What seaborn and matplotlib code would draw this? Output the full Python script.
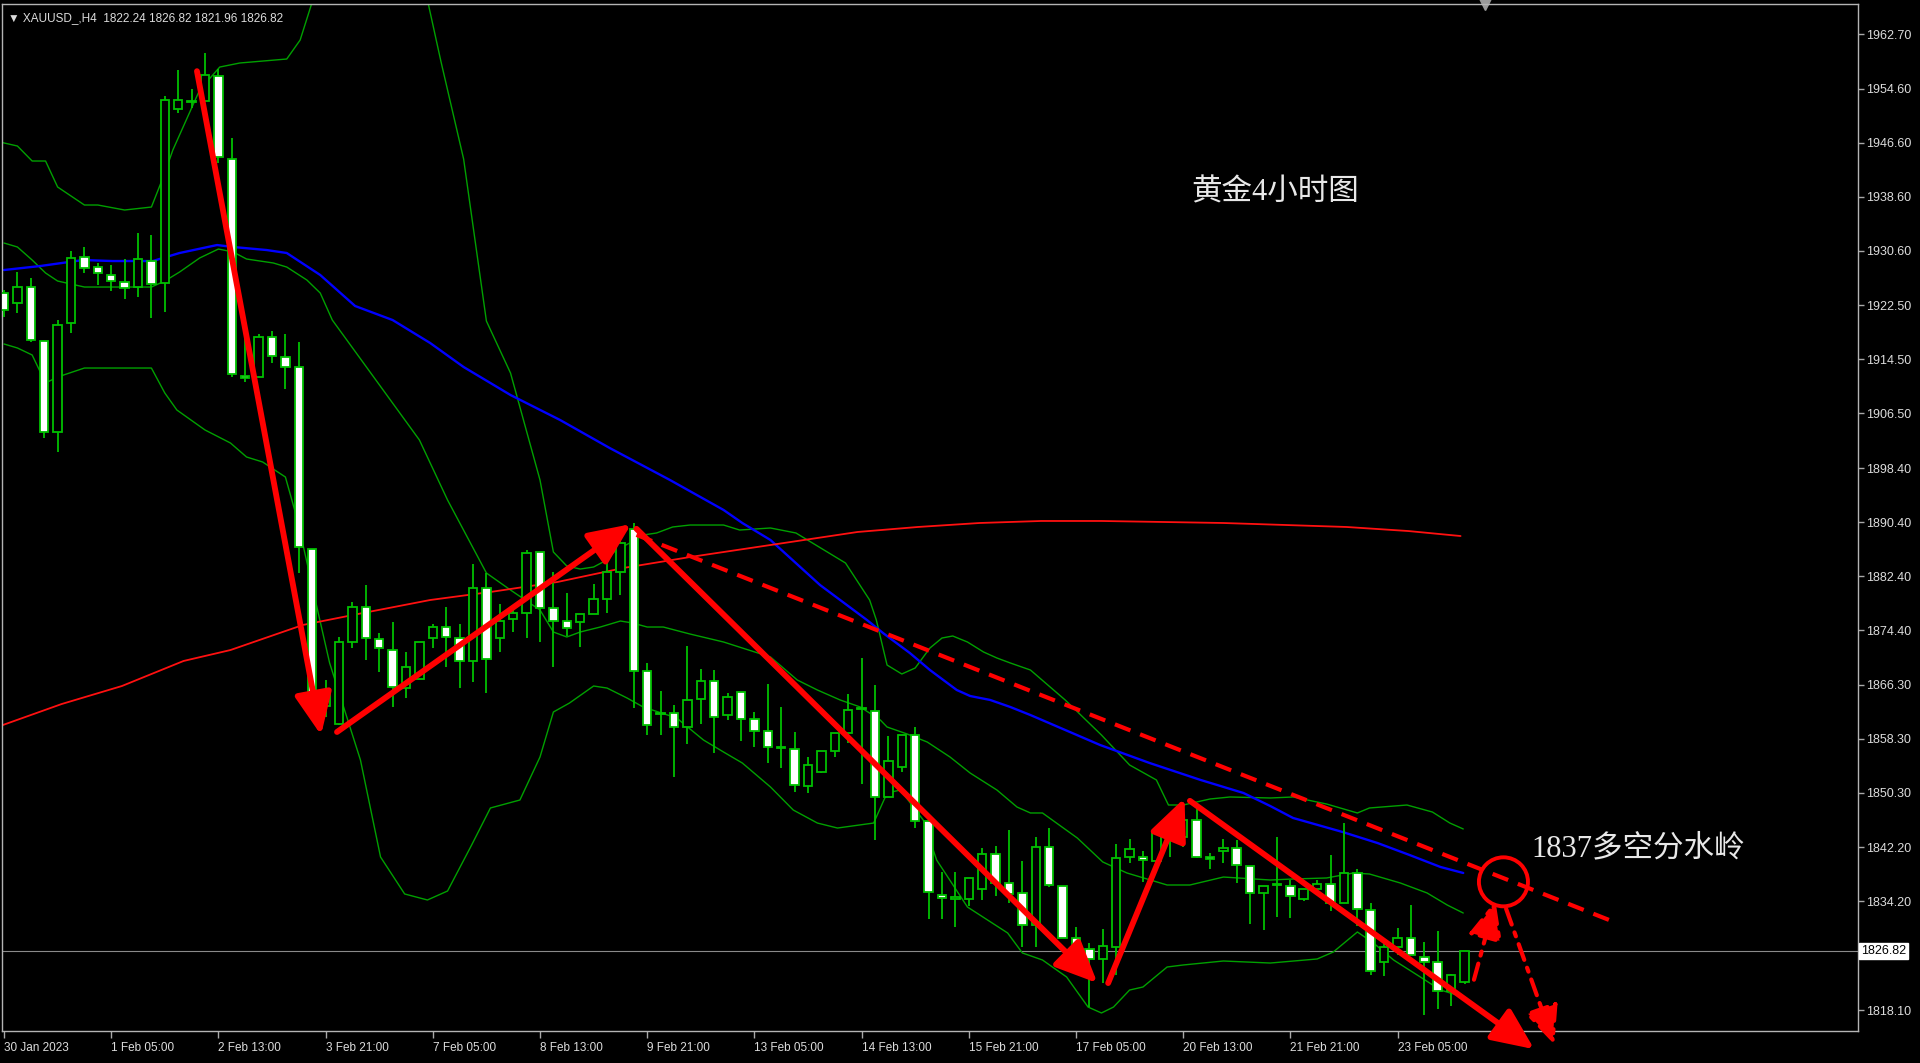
import numpy as np
import pandas as pd
import matplotlib
matplotlib.use("Agg")
import matplotlib.pyplot as plt
import matplotlib.transforms as mtransforms
from matplotlib.patches import Ellipse
import seaborn as sns

# H4 candles (index 0 = first bar on the left)
opens = [1924.33, 1922.85, 1925.22, 1917.22, 1903.74, 1919.89, 1929.67, 1928.18, 1927.00, 1925.96,
         1925.22, 1929.07, 1925.81, 1951.59, 1952.63, 1952.78, 1956.48, 1944.18, 1912.04, 1911.89,
         1917.81, 1914.85, 1913.37, 1886.41, 1863.15, 1860.48, 1872.63, 1877.81, 1873.07, 1871.44,
         1865.82, 1867.15, 1873.22, 1874.85, 1873.22, 1869.85, 1880.63, 1873.22, 1876.04, 1876.93,
         1885.96, 1877.67, 1875.74, 1875.59, 1876.78, 1879.00, 1883.00, 1889.37, 1868.33, 1861.96,
         1862.11, 1860.04, 1864.19, 1866.85, 1861.81, 1865.22, 1861.22, 1859.45, 1856.93, 1856.78,
         1851.30, 1853.37, 1856.48, 1859.15, 1862.70, 1862.41, 1849.67, 1854.11, 1858.85, 1846.11,
         1835.15, 1834.56, 1834.56, 1836.04, 1841.26, 1836.93, 1835.45, 1830.71, 1842.30, 1836.48,
         1828.78, 1827.15, 1825.67, 1827.44, 1840.78, 1840.78, 1840.19, 1843.74, 1843.74, 1846.26,
         1840.78, 1841.70, 1842.15, 1839.44, 1835.45, 1836.63, 1836.48, 1834.56, 1836.04, 1836.78,
         1833.96, 1838.41, 1832.93, 1825.22, 1827.44, 1828.78, 1825.96, 1825.22, 1820.93, 1822.24]
highs = [1924.80, 1927.44, 1926.55, 1917.22, 1920.33, 1930.55, 1931.15, 1928.78, 1928.48, 1929.37,
         1933.22, 1932.92, 1953.52, 1957.37, 1954.55, 1959.89, 1957.52, 1947.30, 1918.41, 1918.26,
         1918.70, 1918.26, 1917.07, 1886.41, 1867.00, 1873.37, 1878.56, 1881.07, 1873.96, 1875.59,
         1871.15, 1872.63, 1875.30, 1877.81, 1875.30, 1884.19, 1882.85, 1878.26, 1878.11, 1886.26,
         1885.96, 1883.00, 1879.89, 1876.78, 1881.22, 1885.37, 1888.00, 1890.26, 1869.52, 1865.37,
         1863.30, 1872.04, 1868.63, 1868.48, 1865.07, 1865.22, 1862.26, 1866.41, 1863.00, 1859.30,
         1855.59, 1856.48, 1859.15, 1864.93, 1870.29, 1866.26, 1858.70, 1858.85, 1860.04, 1846.11,
         1838.59, 1838.59, 1837.70, 1842.15, 1842.44, 1844.79, 1840.19, 1843.78, 1845.07, 1836.48,
         1830.41, 1828.04, 1830.11, 1842.67, 1843.44, 1841.67, 1844.79, 1847.30, 1847.74, 1848.04,
         1841.37, 1843.44, 1843.30, 1839.44, 1836.48, 1843.74, 1837.37, 1836.04, 1837.37, 1841.08,
         1845.82, 1839.00, 1833.96, 1828.19, 1830.26, 1833.67, 1828.19, 1829.81, 1823.45, 1826.82]
lows = [1920.78, 1921.37, 1917.07, 1902.85, 1900.78, 1918.41, 1927.30, 1925.52, 1924.63, 1923.44,
        1923.74, 1920.63, 1921.52, 1951.00, 1951.74, 1952.63, 1943.59, 1911.89, 1911.15, 1911.89,
        1913.96, 1910.11, 1882.85, 1862.56, 1861.52, 1860.33, 1871.74, 1869.96, 1868.19, 1863.00,
        1864.33, 1867.15, 1871.74, 1868.93, 1865.82, 1866.70, 1865.07, 1871.15, 1874.11, 1873.22,
        1872.63, 1868.93, 1873.52, 1871.89, 1876.78, 1876.93, 1879.60, 1862.85, 1858.85, 1858.85,
        1852.63, 1857.52, 1860.48, 1856.19, 1861.07, 1857.99, 1857.07, 1854.70, 1853.96, 1850.41,
        1850.26, 1853.22, 1855.59, 1857.67, 1851.59, 1843.30, 1849.67, 1853.37, 1845.07, 1831.59,
        1831.59, 1830.41, 1833.52, 1834.41, 1834.99, 1833.96, 1827.48, 1827.48, 1836.33, 1828.78,
        1824.04, 1818.55, 1822.11, 1823.30, 1839.93, 1837.07, 1839.30, 1840.78, 1842.30, 1840.63,
        1839.04, 1839.93, 1836.93, 1830.85, 1830.00, 1831.89, 1831.74, 1834.26, 1835.59, 1832.78,
        1833.96, 1830.55, 1823.30, 1823.15, 1826.26, 1826.26, 1817.37, 1818.26, 1818.70, 1821.96]
closes = [1921.81, 1925.22, 1917.37, 1903.74, 1919.59, 1929.52, 1928.04, 1927.30, 1926.11, 1925.07,
          1929.37, 1925.67, 1952.93, 1952.93, 1952.78, 1956.63, 1944.48, 1912.33, 1911.74, 1917.81,
          1915.00, 1913.37, 1886.70, 1863.30, 1865.52, 1872.63, 1877.81, 1873.22, 1871.74, 1865.96,
          1868.93, 1872.63, 1874.85, 1873.37, 1869.85, 1880.63, 1870.15, 1875.74, 1876.93, 1885.81,
          1877.67, 1875.74, 1874.70, 1876.78, 1879.00, 1883.00, 1887.30, 1868.33, 1860.33, 1861.96,
          1860.04, 1864.04, 1866.85, 1861.52, 1864.48, 1861.22, 1859.45, 1857.07, 1856.93, 1851.45,
          1854.41, 1856.48, 1859.15, 1862.56, 1862.70, 1849.67, 1855.00, 1858.85, 1846.11, 1835.59,
          1834.70, 1834.85, 1837.70, 1841.26, 1836.93, 1835.30, 1830.71, 1842.30, 1836.63, 1828.78,
          1827.30, 1825.67, 1827.59, 1840.67, 1841.96, 1840.33, 1844.34, 1844.34, 1846.26, 1840.78,
          1840.48, 1842.15, 1839.59, 1835.45, 1836.48, 1836.63, 1835.00, 1836.04, 1836.78, 1833.96,
          1838.41, 1833.08, 1823.89, 1827.44, 1828.78, 1826.26, 1825.22, 1820.93, 1823.30, 1826.82]

# bollinger bands and moving averages (bar index, price)
bb_up_x = [-0.3, 1.0, 2.1, 3.1, 4.0, 6.0, 7.0, 9.0, 11.0, 12.0, 12.6, 14.6, 16.1, 17.6, 21.1, 22.1,
           25.0, 29.0, 31.6, 32.6, 34.3, 36.0, 37.8, 40.0, 41.0, 42.0, 43.0, 44.0, 44.7, 45.7, 46.7,
           47.7, 48.7, 49.9, 51.2, 53.7, 54.9, 57.2, 59.1, 62.8, 64.6, 65.1, 65.9, 67.0, 68.0, 69.1,
           70.0, 70.8, 71.9, 73.1, 74.1, 75.1, 76.6, 79.2, 81.9, 84.0, 86.0, 86.9, 88.0, 90.0, 91.5,
           94.5, 96.2, 98.7, 101.0, 101.9, 104.7, 106.6, 107.9, 108.9]
bb_up_y = [1946.70, 1946.11, 1943.89, 1943.89, 1940.04, 1937.37, 1937.37, 1936.63, 1937.07, 1942.11,
           1945.52, 1954.41, 1957.81, 1958.41, 1959.00, 1961.81, 1980.0, 1980.0, 1967.74, 1958.70,
           1944.18, 1920.18, 1912.48, 1896.63, 1885.96, 1883.89, 1883.44, 1883.74, 1884.48, 1886.26,
           1887.30, 1888.48, 1888.78, 1889.67, 1889.96, 1889.96, 1889.22, 1889.52, 1888.78, 1884.33,
           1878.85, 1875.89, 1869.22, 1867.89, 1868.78, 1871.74, 1873.22, 1873.52, 1872.63, 1871.15,
           1870.26, 1869.52, 1868.48, 1864.03, 1858.85, 1854.41, 1852.19, 1848.48, 1848.48, 1849.37,
           1849.67, 1849.52, 1849.67, 1848.63, 1847.30, 1848.04, 1848.48, 1847.44, 1845.81, 1844.93]
bb_mid_x = [0.0, 1.0, 2.1, 3.1, 4.0, 6.0, 8.1, 11.0, 12.0, 13.1, 14.6, 16.0, 17.1, 18.1, 20.1, 21.1,
            22.6, 23.6, 24.5, 31.0, 33.1, 36.0, 37.8, 40.0, 41.0, 42.0, 43.0, 44.5, 46.0, 46.9, 48.0,
            49.2, 51.2, 53.7, 55.1, 57.2, 59.2, 60.7, 62.4, 63.9, 65.4, 65.9, 67.4, 68.9, 70.6, 72.1,
            74.1, 75.6, 76.6, 77.5, 80.1, 82.0, 83.8, 86.8, 88.5, 91.0, 94.5, 96.2, 98.7, 100.7, 101.9,
            104.2, 106.2, 107.7, 108.9]
bb_mid_y = [1931.74, 1931.15, 1929.22, 1927.30, 1926.11, 1925.22, 1925.22, 1925.22, 1926.11, 1927.44,
            1929.52, 1930.85, 1930.41, 1929.37, 1928.78, 1928.18, 1926.26, 1924.33, 1920.33, 1902.56,
            1893.67, 1882.85, 1880.33, 1877.37, 1874.11, 1873.37, 1874.11, 1874.85, 1875.74, 1875.45,
            1874.85, 1874.85, 1873.81, 1872.63, 1871.74, 1870.41, 1867.00, 1865.52, 1864.04, 1863.00,
            1861.07, 1860.04, 1859.00, 1857.81, 1855.59, 1853.22, 1850.70, 1848.18, 1847.30, 1847.30,
            1843.59, 1840.04, 1838.41, 1836.63, 1836.63, 1837.81, 1837.37, 1837.52, 1837.67, 1838.41,
            1838.26, 1836.93, 1835.45, 1833.67, 1832.48]
bb_low_x = [0.0, 1.0, 2.1, 3.1, 4.0, 6.0, 11.0, 12.0, 12.9, 15.0, 16.9, 18.1, 19.3, 21.0, 21.9, 23.4,
            24.3, 26.6, 28.1, 29.9, 31.6, 33.1, 34.9, 36.3, 38.5, 40.0, 41.0, 42.2, 44.0, 45.0, 46.5,
            47.7, 50.2, 52.2, 53.7, 55.1, 57.2, 58.9, 60.7, 62.2, 64.9, 65.9, 66.9, 68.6, 69.6, 71.9,
            74.9, 76.0, 77.5, 79.3, 80.9, 81.9, 82.8, 84.0, 85.0, 86.8, 88.0, 91.0, 94.5, 98.0, 99.2,
            101.0, 102.2, 103.7, 105.7, 107.2, 108.9]
bb_low_y = [1916.78, 1916.19, 1915.15, 1911.00, 1911.89, 1913.22, 1913.22, 1909.52, 1907.00, 1904.04,
            1902.11, 1900.04, 1899.30, 1897.07, 1890.70, 1877.37, 1869.52, 1855.15, 1840.78, 1835.30,
            1834.41, 1835.74, 1842.56, 1848.04, 1849.22, 1855.59, 1862.26, 1863.59, 1866.11, 1865.81,
            1864.33, 1863.00, 1861.37, 1858.11, 1856.33, 1854.70, 1851.15, 1847.74, 1845.81, 1845.07,
            1845.81, 1850.26, 1850.70, 1846.26, 1840.33, 1833.37, 1829.52, 1826.56, 1825.52, 1823.00,
            1818.55, 1817.67, 1818.55, 1821.07, 1821.52, 1824.48, 1824.78, 1825.37, 1825.07, 1825.67,
            1826.70, 1829.67, 1828.04, 1825.52, 1823.00, 1821.07, 1820.04]
ma_blue_x = [0.0, 2.7, 5.9, 8.1, 11.1, 13.1, 15.9, 17.1, 19.6, 21.1, 23.6, 26.2, 29.0, 31.8, 34.3,
             37.8, 41.5, 45.2, 49.7, 51.7, 53.7, 55.1, 57.2, 60.9, 64.4, 65.6, 67.6, 69.1, 71.1, 72.1,
             73.6, 75.1, 76.6, 81.8, 85.5, 89.3, 92.5, 94.5, 96.2, 99.9, 102.5, 104.9, 107.2, 108.9]
ma_blue_y = [1927.74, 1928.33, 1929.22, 1929.07, 1929.07, 1930.26, 1931.44, 1931.15, 1930.70, 1930.26,
             1927.00, 1922.41, 1920.33, 1916.93, 1913.37, 1909.22, 1905.52, 1901.37, 1896.63, 1894.41,
             1892.19, 1890.26, 1887.74, 1881.07, 1875.89, 1873.96, 1871.00, 1868.48, 1865.52, 1864.63,
             1864.04, 1863.00, 1861.81, 1857.37, 1854.70, 1852.19, 1850.26, 1848.33, 1846.56, 1844.48,
             1842.85, 1841.07, 1839.30, 1838.41]
ma_red_x = [-0.3, 4.3, 8.8, 13.4, 16.9, 22.3, 26.8, 31.8, 36.3, 41.3, 46.2, 51.2, 57.2, 63.7, 68.2,
            72.8, 77.4, 81.9, 86.5, 91.0, 95.7, 100.2, 104.8, 108.7]
ma_red_y = [1860.18, 1863.44, 1866.11, 1869.82, 1871.44, 1875.15, 1876.93, 1878.85, 1880.04, 1881.52,
            1883.59, 1885.22, 1887.00, 1888.93, 1889.67, 1890.26, 1890.56, 1890.56, 1890.41, 1890.26,
            1889.96, 1889.67, 1889.07, 1888.33]

tick_idx = [0, 8, 16, 24, 32, 40, 48, 56, 64, 72, 80, 88, 96, 104]
tick_text = ["30 Jan 2023", "1 Feb 05:00", "2 Feb 13:00", "3 Feb 21:00", "7 Feb 05:00",
             "8 Feb 13:00", "9 Feb 21:00", "13 Feb 05:00", "14 Feb 13:00", "15 Feb 21:00",
             "17 Feb 05:00", "20 Feb 13:00", "21 Feb 21:00", "23 Feb 05:00"]
price_ticks = [1962.70, 1954.60, 1946.60, 1938.60, 1930.60, 1922.50, 1914.50, 1906.50, 1898.40,
               1890.40, 1882.40, 1874.40, 1866.30, 1858.30, 1850.30, 1842.20, 1834.20, 1826.10, 1818.10]
last_price = 1826.82

# hand-drawn analysis: arrows (start -> tip), dashed trend line, circle
arrow_start = [(14.4, 1957.2), (24.85, 1859.3), (47.2, 1889.4), (82.4, 1822.1), (88.5, 1849.1)]
arrow_tip = [(23.66, 1858.85), (46.8, 1890.1), (81.6, 1822.1), (88.1, 1849.5), (114.2, 1812.3)]
dash_line_x = [47.2, 120.1]
dash_line_y = [1888.5, 1831.2]
dd_start = [(109.7, 1822.6), (112.1, 1833.1)]
dd_tip = [(111.3, 1834.3), (115.7, 1813.0)]
circle_c = (111.9, 1837.1)

sns.set_style("dark", {"axes.facecolor": "black", "figure.facecolor": "black"})
plt.rcParams['font.family'] = ['Liberation Sans', 'DejaVu Sans']

fig = plt.figure(figsize=(19.2, 10.63), dpi=100)
ax = fig.add_axes([2 / 1920, 32 / 1063, 1856 / 1920, 1027 / 1063])
ax.set_facecolor("black")

grn = "#00c000"
df = pd.DataFrame({"o": opens, "h": highs, "l": lows, "c": closes})
df["i"] = np.arange(len(df))
bull = df.c >= df.o
lo = df[["o", "c"]].min(axis=1)
hgt = (df.c - df.o).abs().clip(lower=0.12)

# indicator lines
sns.lineplot(x=bb_up_x, y=bb_up_y, ax=ax, color="#00a000", linewidth=1.0, estimator=None, sort=False, zorder=2)
sns.lineplot(x=bb_mid_x, y=bb_mid_y, ax=ax, color="#00a000", linewidth=1.0, estimator=None, sort=False, zorder=2)
sns.lineplot(x=bb_low_x, y=bb_low_y, ax=ax, color="#00a000", linewidth=1.0, estimator=None, sort=False, zorder=2)
sns.lineplot(x=ma_blue_x, y=ma_blue_y, ax=ax, color="#0000ff", linewidth=1.7, estimator=None, sort=False, zorder=2)
sns.lineplot(x=ma_red_x, y=ma_red_y, ax=ax, color="#ff1010", linewidth=1.3, estimator=None, sort=False, zorder=2)

# current price line
ax.axhline(last_price, color="#8a8a8a", lw=0.8, zorder=1)

# candles
ax.vlines(df.i, df.l, df.h, color=grn, lw=1.3, zorder=3)
ax.bar(df.i[bull], hgt[bull], bottom=lo[bull], width=0.64, color="black", edgecolor=grn, linewidth=1.3, zorder=4)
ax.bar(df.i[~bull], hgt[~bull], bottom=lo[~bull], width=0.64, color="white", edgecolor=grn, linewidth=1.3, zorder=4)

# analysis drawing
for s, t in zip(arrow_start, arrow_tip):
    ax.annotate("", xy=t, xytext=s, annotation_clip=False,
                arrowprops=dict(arrowstyle="-|>,head_length=0.85,head_width=0.38", color="#ff0000",
                                lw=4.2, mutation_scale=30, shrinkA=0, shrinkB=0), zorder=6)
ax.plot(dash_line_x, dash_line_y, color="#ff0000", lw=3, linestyle=(0, (4, 2.5)), zorder=6, clip_on=False)
for s, t in zip(dd_start, dd_tip):
    ax.annotate("", xy=t, xytext=s, annotation_clip=False,
                arrowprops=dict(arrowstyle="-|>,head_length=0.9,head_width=0.4", color="#ff0000",
                                lw=3, linestyle=(0, (4, 2, 1, 2)), mutation_scale=26,
                                shrinkA=0, shrinkB=0), zorder=6)
ax.add_patch(Ellipse(circle_c, width=3.66, height=7.26, fill=False, edgecolor="#ff0000", lw=2.8, zorder=6))

cjk = ["Liberation Serif", "Noto Sans CJK SC"]
ax.text(88.6, 1939.1, "黄金4小时图", color="#e8e8e8", fontsize=22, family=cjk, va="center", ha="left")
ax.text(114.0, 1842.0, "1837多空分水岭", color="#e8e8e8", fontsize=22, family=cjk, va="center", ha="left")

# header
ax.text(0.003, 0.992, "\u25bc XAUUSD_,H4  1822.24 1826.82 1821.96 1826.82", transform=ax.transAxes,
        color="#dcdcdc", fontsize=8.5, va="top", ha="left", family=["Liberation Sans", "DejaVu Sans"])
ax.plot([110.5], [1], marker="v", markersize=8, color="#9a9a9a",
        transform=mtransforms.blended_transform_factory(ax.transData, ax.transAxes), clip_on=False)

# axes
ax.set_xlim(-0.15, 138.36)
ax.set_ylim(1815.0, 1967.15)
ax.yaxis.tick_right()
ax.set_yticks(price_ticks)
# the tick under the current-price box keeps no label (the box sits on it)
ax.set_yticklabels([f"{v:.2f}" if abs(v - last_price) > 2 else "" for v in price_ticks])
ax.set_xticks(tick_idx)
ax.set_xticklabels(tick_text, ha="left")
ax.tick_params(axis="y", colors="#a8a8a8", labelcolor="#dcdcdc", labelsize=9, length=4, width=1,
               direction="out", pad=2, right=True, left=False)
ax.tick_params(axis="x", colors="#a8a8a8", labelcolor="#dcdcdc", labelsize=8.5, length=5, width=1,
               direction="out", pad=3, bottom=True)
for lab in ax.get_xticklabels():
    lab.set_horizontalalignment("left")
ax.grid(False)
for sp in ax.spines.values():
    sp.set_color("#b4b4b4")
    sp.set_linewidth(1)
    sp.set_visible(True)
ax.set_xlabel("")
ax.set_ylabel("")

ax.text(1.0015, last_price, f"{last_price:.2f}", color="black", fontsize=9, va="center", ha="left",
        transform=mtransforms.blended_transform_factory(ax.transAxes, ax.transData),
        bbox=dict(boxstyle="square,pad=0.15", facecolor="white", edgecolor="white"), zorder=10, clip_on=False)

fig.savefig("out.png", dpi=100, facecolor="black")
